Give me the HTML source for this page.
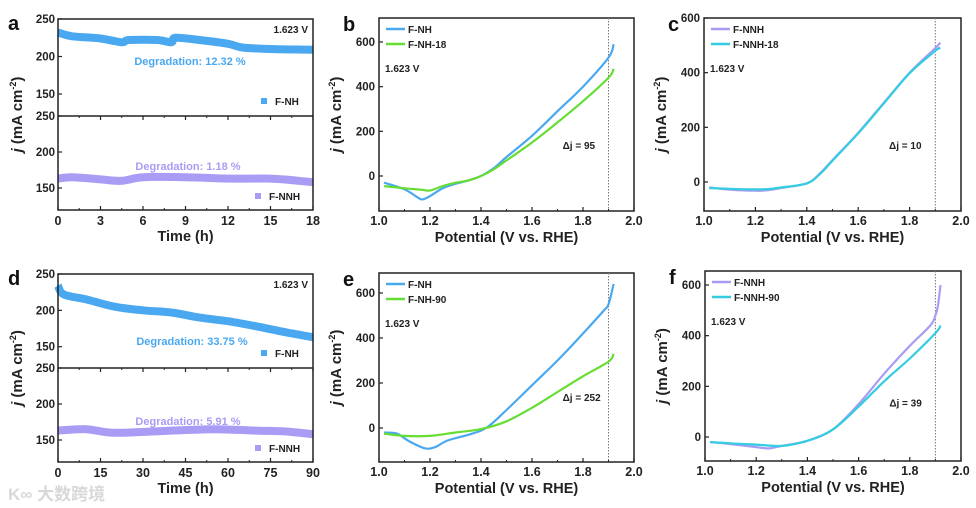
<!DOCTYPE html>
<html><head><meta charset="utf-8">
<style>
body{margin:0;background:#fff;}
svg{display:block;font-family:"Liberation Sans","Noto Sans CJK SC",sans-serif;font-weight:bold;}
</style></head>
<body>
<svg id="fig" width="976" height="508" viewBox="0 0 976 508"></svg>
<script>
// ---------- data ----------
const aTime = [0,1,3,4.5,5,7,8,8.3,10,12,13,15,18];
const aFNH = [232,227,224,219,222,222,219,225,222,217,212,210,209];
const aTimeN = [0,1,3,4.5,6,9,12,15,17,18];
const aFNNH = [163,165,162,160,165,165,163,163,160,158];
const dTime = [0,2,10,20,30,40,50,60,70,80,90];
const dFNH = [234,222,215,205,200,197,190,185,178,170,163];
const dTimeN = [0,10,20,40,55,70,80,90];
const dFNNH = [163,165,160,163,165,163,162,158];

const bV = [1.02,1.1,1.15,1.17,1.2,1.25,1.3,1.35,1.4,1.45,1.5,1.6,1.7,1.8,1.9,1.92];
const bFNH = [-30,-60,-95,-105,-90,-55,-35,-20,0,35,85,180,290,400,530,590];
const bFNH18 = [-45,-55,-60,-62,-65,-45,-30,-20,0,30,70,150,240,335,440,480];
const cV = [1.02,1.1,1.2,1.25,1.3,1.4,1.45,1.5,1.6,1.7,1.8,1.9,1.92];
const cFNNH = [-20,-28,-32,-30,-22,-5,30,80,180,290,400,490,510];
const cFNNH18 = [-22,-25,-27,-26,-20,-5,28,78,178,288,398,480,490];
const eV = [1.02,1.07,1.12,1.18,1.22,1.27,1.35,1.42,1.5,1.6,1.7,1.8,1.88,1.9,1.92];
const eFNH = [-20,-25,-60,-90,-85,-55,-30,0,80,190,300,420,520,550,640];
const eV2 = [1.02,1.1,1.2,1.3,1.4,1.5,1.6,1.7,1.8,1.9,1.92];
const eFNH90 = [-25,-35,-35,-20,-5,30,90,160,230,295,330];
const fV = [1.02,1.1,1.2,1.25,1.3,1.4,1.5,1.6,1.7,1.8,1.88,1.9,1.91,1.92];
const fFNNH = [-20,-28,-40,-45,-35,-15,30,130,250,360,440,480,520,600];
const fV2 = [1.02,1.1,1.2,1.3,1.4,1.5,1.6,1.7,1.8,1.9,1.92];
const fFNNH90 = [-20,-25,-30,-35,-15,30,120,220,310,410,440];

const timeTicksA = [0,3,6,9,12,15,18];
const timeTicksD = [0,15,30,45,60,75,90];
const stabTicks = [150,200,250];
const vTicks = [1.0,1.2,1.4,1.6,1.8,2.0];
const jTicks = [0,200,400,600];

// ---------- helpers ----------
const NS="http://www.w3.org/2000/svg";
const svg=document.getElementById('fig');
function el(tag,attrs,parent){const e=document.createElementNS(NS,tag);for(const k in attrs)e.setAttribute(k,attrs[k]);(parent||svg).appendChild(e);return e;}
function txt(x,y,s,size,anchor,fill,parent){const t=el('text',{x:x,y:y,'font-size':size,'text-anchor':anchor||'start',fill:fill||'#222'},parent);t.textContent=s;return t;}
function lin(d0,d1,p0,p1){return v=>p0+(v-d0)*(p1-p0)/(d1-d0);}
function pathD(xs,ys,sx,sy){
  const P=xs.map((v,i)=>[sx(v),sy(ys[i])]);
  let d='M'+P[0][0].toFixed(1)+','+P[0][1].toFixed(1);
  for(let i=0;i<P.length-1;i++){
    const p0=P[i-1]||P[i],p1=P[i],p2=P[i+1],p3=P[i+2]||P[i+1];
    const c1=[p1[0]+(p2[0]-p0[0])/6,p1[1]+(p2[1]-p0[1])/6];
    const c2=[p2[0]-(p3[0]-p1[0])/6,p2[1]-(p3[1]-p1[1])/6];
    d+=` C${c1[0].toFixed(1)},${c1[1].toFixed(1)} ${c2[0].toFixed(1)},${c2[1].toFixed(1)} ${p2[0].toFixed(1)},${p2[1].toFixed(1)}`;
  }
  return d;
}

function yTitle(x,y){
  const t=el('text',{x:0,y:0,'font-size':15,'text-anchor':'middle',fill:'#222',transform:`translate(${x},${y}) rotate(-90)`});
  
  t.innerHTML='<tspan font-style="italic">j</tspan> (mA cm<tspan dy="-6" font-size="9">-2</tspan><tspan dy="6">)</tspan>';
}

function stability(g,L,R,T,S,B,tTicks,tMax,top,bot,panelLabel){
  const sx=lin(0,tMax,L,R);
  const syT=lin(150,250,T+(94-19)*(S-T)/97,T);
  const syB=lin(150,250,S+(188-116)*(B-S)/94,S);
  const p1=el('path',{d:pathD(top.t,top.v,sx,syT),fill:'none',stroke:'#4aa8f0','stroke-width':8,'stroke-linejoin':'round'},g);
  
  const p2=el('path',{d:pathD(bot.t,bot.v,sx,syB),fill:'none',stroke:'#a99cf5','stroke-width':8,'stroke-linejoin':'round'},g);
  
  const box=el('rect',{x:L,y:T,width:R-L,height:B-T,fill:'none',stroke:'#222','stroke-width':1.5},g);
  
  el('line',{x1:L,y1:S,x2:R,y2:S,stroke:'#222','stroke-width':1.5},g);
  tTicks.forEach((t,i)=>{
    el('line',{x1:sx(t),y1:B,x2:sx(t),y2:B-4,stroke:'#222','stroke-width':1.2},g);
    el('line',{x1:sx(t),y1:S,x2:sx(t),y2:S+4,stroke:'#222','stroke-width':1.2},g);
    if(i<tTicks.length-1){const m=(t+tTicks[i+1])/2;el('line',{x1:sx(m),y1:B,x2:sx(m),y2:B-2,stroke:'#222'},g);el('line',{x1:sx(m),y1:S,x2:sx(m),y2:S+2,stroke:'#222'},g);}
    const lb=txt(sx(t),B+15,String(t),12.5,'middle','#222',g);
    
  });
  stabTicks.forEach(v=>{
    [[syT,T],[syB,S]].forEach(([sy,lim])=>{
      const y=sy(v);
      el('line',{x1:L,y1:y,x2:L+4,y2:y,stroke:'#222','stroke-width':1.2},g);
      const lb=txt(L-3,y+4,String(v),11.5,'end','#222',g);
      
    });
  });
  const xt=txt((L+R)/2,B+31,'Time (h)',14.5,'middle','#222',g);
  
  const pl=txt(L-50,T+11,panelLabel,20,'start','#111',g);
  
  const v=txt(R-5,T+14,'1.623 V',10,'end','#222',g);
  
  const d1=txt(top.dx,top.dy,top.deg,11,'middle','#4aa8f0',g);
  
  const d2=txt(bot.dx,bot.dy,bot.deg,11,'middle','#a99cf5',g);
  
  const m1=el('rect',{x:R-52,y:S-18,width:6,height:6,fill:'#4aa8f0'},g);
  
  txt(R-38,S-11,'F-NH',10,'start','#222',g);
  const m2=el('rect',{x:R-58,y:B-17,width:6,height:6,fill:'#a99cf5'},g);
  
  txt(R-44,B-10,'F-NNH',10,'start','#222',g);
  yTitle(L-36,(T+B)/2);
}

function lsv(g,L,R,T,B,y0,y600,series,names,colors,dj,panelLabel){
  const sx=lin(1.0,2.0,L,R);const sy=lin(0,600,y0,y600);
  const box=el('rect',{x:L,y:T,width:R-L,height:B-T,fill:'none',stroke:'#222','stroke-width':1.5},g);
  
  const dl=el('line',{x1:sx(1.9),y1:T,x2:sx(1.9),y2:B,stroke:'#777','stroke-width':1,'stroke-dasharray':'1.5,1.5'},g);
  
  vTicks.forEach((v,i)=>{
    el('line',{x1:sx(v),y1:B,x2:sx(v),y2:B-4,stroke:'#222','stroke-width':1.2},g);
    if(i<vTicks.length-1){const m=v+0.1;el('line',{x1:sx(m),y1:B,x2:sx(m),y2:B-2,stroke:'#222'},g);}
    const lb=txt(sx(v),B+14,v.toFixed(1),12.5,'middle','#222',g);
    
  });
  jTicks.forEach(v=>{
    el('line',{x1:L,y1:sy(v),x2:L+4,y2:sy(v),stroke:'#222','stroke-width':1.2},g);
    const lb=txt(L-4,sy(v)+4,String(v),11.5,'end','#222',g);
    
  });
  series.forEach((s,i)=>{
    const p=el('path',{d:pathD(s[0],s[1],sx,sy),fill:'none',stroke:colors[i],'stroke-width':2.2,'stroke-linejoin':'round'},g);
    
    const ll=el('line',{x1:L+7,y1:T+11+i*15,x2:L+26,y2:T+11+i*15,stroke:colors[i],'stroke-width':2.5},g);
    
    const lt=txt(L+29,T+15+i*15,names[i],10,'start','#222',g);
    
  });
  const v=txt(L+6,T+54,'1.623 V',10,'start','#222',g);
  
  const d=txt(sx(1.72),sy(120),'Δj = '+dj,10,'start','#222',g);
  
  const xt=txt((L+R)/2,B+31,'Potential (V vs. RHE)',14.5,'middle','#222',g);
  
  const pl=txt(L-36,T+13,panelLabel,20,'start','#111',g);
  
  yTitle(L-38,(T+B)/2);
}

function group(name){const g=el('g',{});return g;}

stability(group('panel-a'),58,313,19,116,210,timeTicksA,18,
 {t:aTime,v:aFNH,deg:'Degradation: 12.32 %',dx:190,dy:65},
 {t:aTimeN,v:aFNNH,deg:'Degradation: 1.18 %',dx:188,dy:170},'a');
stability(group('panel-d'),58,313,274,368,462,timeTicksD,90,
 {t:dTime,v:dFNH,deg:'Degradation: 33.75 %',dx:192,dy:345},
 {t:dTimeN,v:dFNNH,deg:'Degradation: 5.91 %',dx:188,dy:425},'d');
lsv(group('panel-b'),379,634,18,211,176,42,[[bV,bFNH],[bV,bFNH18]],['F-NH','F-NH-18'],['#4aa8f0','#66dd33'],95,'b');
lsv(group('panel-c'),704,961,18,211,182,18,[[cV,cFNNH],[cV,cFNNH18]],['F-NNH','F-NNH-18'],['#a99cf5','#33cce0'],10,'c');
lsv(group('panel-e'),379,634,273,462,428,293,[[eV,eFNH],[eV2,eFNH90]],['F-NH','F-NH-90'],['#4aa8f0','#66dd33'],252,'e');
lsv(group('panel-f'),705,961,271,461,437,285,[[fV,fFNNH],[fV2,fFNNH90]],['F-NNH','F-NNH-90'],['#a99cf5','#33cce0'],39,'f');

const wm=txt(8,500,'K∞ 大数跨境',17,'start','#d8d8d8');


</script>
</body></html>
